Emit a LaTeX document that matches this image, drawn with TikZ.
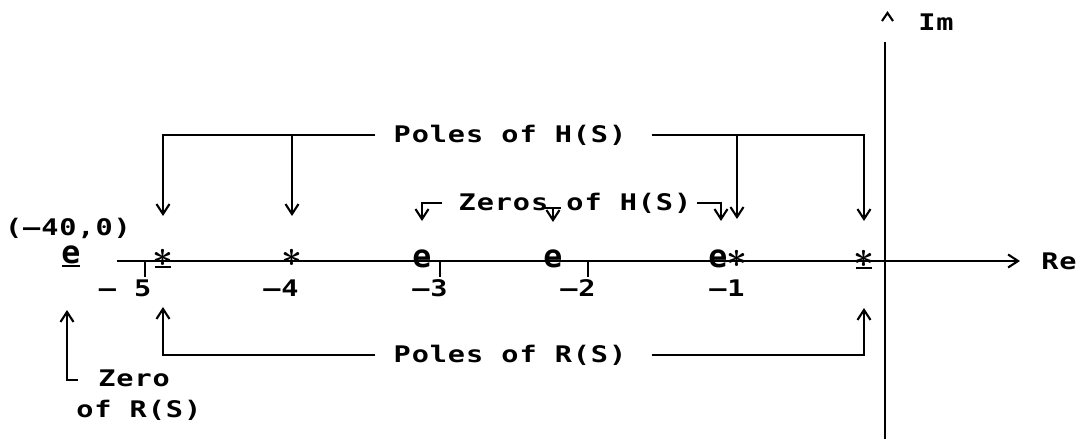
\documentclass[tikz,border=0pt]{standalone}
\usepackage{fontspec}
\usepackage{amsmath}
\usepackage{tikz}
\usetikzlibrary{arrows.meta, positioning, calc}
\newfontfamily\plotfont[FakeStretch=1.25, LetterSpace=4]{DejaVu Sans Mono}
\newfontfamily\markfont{DejaVu Sans Mono}
\newcommand{\lblfont}{\plotfont\bfseries\fontsize{13}{15}\selectfont}

\begin{document}
\begin{tikzpicture}[
  x=0.02cm, y=-0.02cm,
  txt/.style={font=\lblfont, inner sep=0pt},
  polemark/.style={inner sep=0pt, font=\fontsize{21}{21}\selectfont},
  zeromark/.style={inner sep=0pt, font=\markfont\bfseries\fontsize{18}{18}\selectfont},
  line/.style={line width=1.2pt},
  arrow/.style={line width=1.2pt, -{Straight Barb[length=2mm, width=2.6mm]}}
]
  \useasboundingbox (0,0) rectangle (1086,439);

  % axes
  \coordinate (reStart) at (117,261);
  \coordinate (reEnd) at (1020,261);
  \coordinate (imBot) at (885,439);
  \coordinate (imTop) at (885,42);
  \draw[arrow] (reStart) -- (reEnd);
  \draw[line] (imBot) -- (imTop);
  \draw[line] ($(imTop)+(-3,-21)$) -- ++(5.5,-8) -- ++(5.5,8);
  \node[txt, right=0.42cm of reEnd] (re) {Re};
  \node[txt] (im) at (936,22) {Im};

  % ticks and values
  \foreach \x in {145,440,588}
    \draw[line] (\x,261) -- (\x,277);
  \foreach \x/\t in {125/{–~5}, 281/{–4}, 430/{–3}, 578/{–2}, 727/{–1}}
    \node[txt] at (\x,288) {\t};

  % zeros and poles
  \node[zeromark] (z40) at (71,255) {e};
  \node[zeromark] (z3) at (422,259) {e};
  \node[zeromark] (z2) at (553,259) {e};
  \node[zeromark] (z1) at (718,259) {e};
  \node[polemark] (p5) at (163,258) {$\boldsymbol{\ast}$};
  \node[polemark] (p4) at (292,258) {$\boldsymbol{\ast}$};
  \node[polemark] (p1) at (737,259) {$\boldsymbol{\ast}$};
  \node[polemark] (p0) at (864,259) {$\boldsymbol{\ast}$};
  \draw[line] ($(z40)+(-9,11)$) -- ($(z40)+(9,11)$);
  \draw[line] ($(p5)+(-8,9)$) -- ($(p5)+(8,9)$);
  \draw[line] ($(p0)+(-8,9)$) -- ($(p0)+(8,9)$);
  \node[txt] (m40) at (68,228) {(–40,0)};

  % poles of H(S)
  \node[txt] (hpoles) at (510,135) {Poles of H(S)};
  \draw[arrow] ([xshift=-0.36cm]hpoles.west) -| ($(p5)+(0,-42)$);
  \draw[arrow] (p4 |- hpoles) -- ($(p4)+(0,-42)$);
  \draw[arrow] ([xshift=0.5cm]hpoles.east) -| ($(p0)+(0,-38)$);
  \draw[arrow] (p1 |- hpoles) -- ($(p1)+(0,-40)$);

  % zeros of H(S)
  \node[txt] (hzeros) at (575,203) {Zeros of H(S)};
  \draw[arrow] ($(hzeros.west)+(-16,0)$) -| ($(z3)+(0,-38)$);
  \draw[line] ($(z2)+(-8,-51)$) -- ($(z2)+(8,-51)$);
  \draw[arrow] ($(z2)+(0,-51)$) -- ($(z2)+(0,-37)$);
  \draw[arrow] ([xshift=0.1cm]hzeros.east) -| ($(z1)+(3,-38)$);

  % poles of R(S)
  \node[txt] (rpoles) at (510,355) {Poles of R(S)};
  \draw[arrow] ([xshift=-0.36cm]rpoles.west) -| ($(p5)+(0,49)$);
  \draw[arrow] ([xshift=0.5cm]rpoles.east) -| ($(p0)+(0,49)$);

  % zero of R(S)
  \node[txt, anchor=west] (zr) at (98,378) {Zero};
  \node[txt, anchor=west] (zrof) at (76,410) {of R(S)};
  \draw[arrow] ($(zr.west)+(-20,2)$) -| ($(z40)+(-4,55)$);
\end{tikzpicture}
\end{document}
